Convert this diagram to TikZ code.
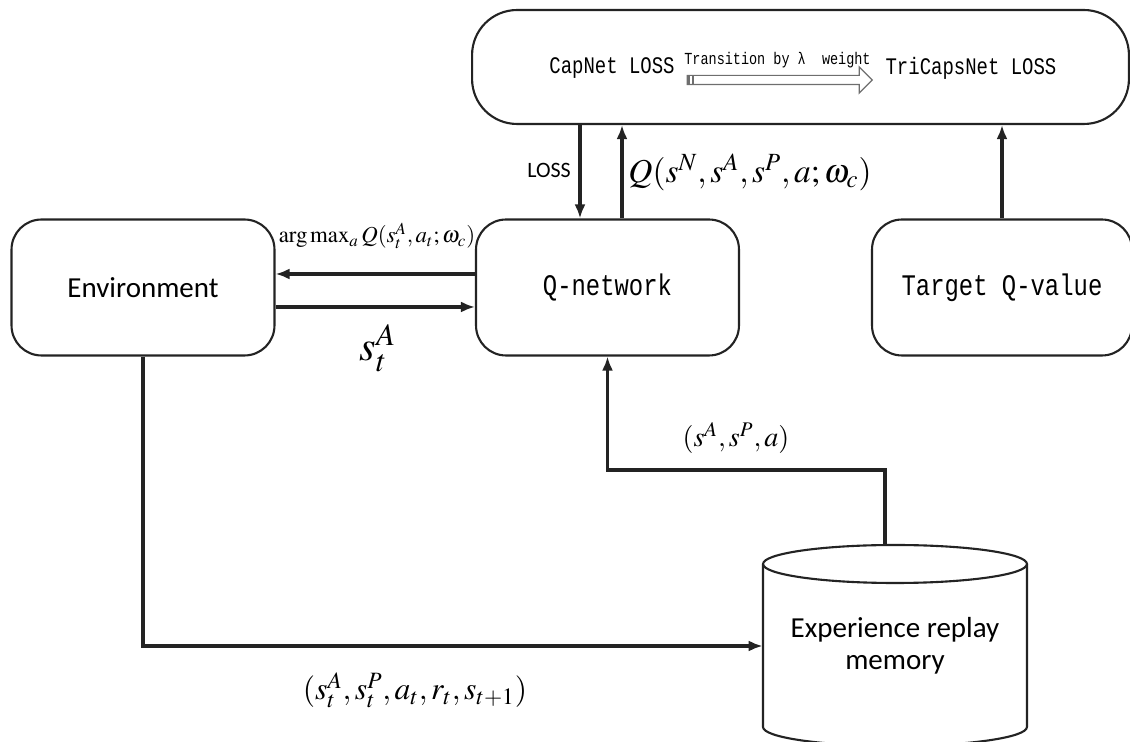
\documentclass[tikz,border=0pt]{standalone}
\usepackage{mathptmx}
\usepackage{fontspec}
\setmainfont{Carlito}
\newfontfamily\monoFont[FakeStretch=0.8]{Liberation Mono}
\usepackage{tikz}
\usetikzlibrary{positioning, arrows.meta, shapes.arrows}
\tikzstyle{pixelGrid} = [x = 0.02cm, y = -0.02cm]
\definecolor{lineColor}{RGB}{35,35,35}
\definecolor{transitionColor}{RGB}{110,110,110}
\tikzstyle{boxStyle} = [draw=lineColor, line width = 1.2pt, rounded corners = .6cm, minimum width = 5.26cm, minimum height = 2.72cm]
\tikzstyle{monoText} = [font=\monoFont\fontsize{17}{20}\selectfont]
\tikzstyle{sansText} = [font=\fontsize{16.5}{18}\selectfont, align=center]
\tikzstyle{flow} = [draw=lineColor, line width = 1.9pt, -{Latex[length=.28cm, width=.22cm]}]
\newcommand{\mathLabel}[4]{\node [inner sep=0pt, font=\fontsize{#3}{#3}\selectfont] (#1) at (#2) {$#4$};}

\begin{document}
\begin{tikzpicture}[pixelGrid]
  \useasboundingbox (0,0) rectangle (1130,742);

  \node [boxStyle, rounded corners = .9cm, minimum width = 13.14cm, minimum height = 2.28cm] (loss) at (800.5,67) {};
  \node [font=\monoFont\fontsize{13.5}{15}\selectfont] (capNet) at (612,68) {CapNet LOSS};
  \node [font=\monoFont\fontsize{13.5}{15}\selectfont] (triCaps) at (971,68) {TriCapsNet LOSS};
  \node [single arrow, draw=transitionColor, line width = .7pt, minimum height = 3.7cm, minimum width = .5cm,
         single arrow head extend = .17cm, single arrow head indent = 0cm, inner sep = .08cm] (transition) at (777.5,80) {};
  \foreach \gripX in {689,693}
    \draw [transitionColor, line width = .7pt] (\gripX,76) -- (\gripX,84);
  \node [font=\monoFont\fontsize{9.6}{11}\selectfont, above = .02cm of transition] (transitionText) {Transition by λ~~weight};

  \node [boxStyle] (env) at (143,287.5) {};
  \node [sansText] at (env) {Environment};
  \node [boxStyle] (qnet) at (607.5,287.5) {};
  \node [monoText] at (qnet) {Q-network};
  \node [boxStyle, minimum width = 5.2cm] (target) at (1002,287.5) {};
  \node [monoText] at (target) {Target Q-value};

  % replay memory drawn as a cylinder
  \draw [lineColor, line width = 1.2pt, fill=white] (763,564) -- (763,727) arc [start angle=180, end angle=360, x radius=2.64cm, y radius=.38cm] -- (1027,564);
  \draw [lineColor, line width = 1.2pt] (895,564) ellipse [x radius=2.64cm, y radius=.38cm];
  \node [sansText, minimum width = 5.28cm] (memory) at (895,646) {Experience replay\\memory};
  \coordinate (memoryTop) at (885,545);

  \path (qnet.north) ++(-27.5,0) coordinate (lossIn);
  \path (qnet.north) ++(14.5,0) coordinate (qOut);
  \draw [flow] (lossIn |- loss.south) -- (lossIn);
  \draw [flow] (qOut) -- (qOut |- loss.south);
  \draw [flow] (target.north) -- (target.north |- loss.south);
  \draw [flow] ([yshift=.27cm]qnet.west) -- ([yshift=.27cm]env.east);
  \draw [flow] ([yshift=-.39cm]env.east) -- ([yshift=-.39cm]qnet.west);
  \draw [flow] (memoryTop) -- ++(0,-75) -| (qnet.south);
  \draw [flow] (env.south) |- (memory.west);

  \node [font=\fontsize{12.5}{14}\selectfont] (lossText) at (549,170) {LOSS};
  \mathLabel{qLabel}{750,172}{19}{Q(s^{N}, s^{A}, s^{P}, a; \omega_{c})}
  \mathLabel{actLabel}{377,236}{13}{\arg\max\nolimits_{a} Q(s_{t}^{A}, a_{t}; \omega_{c})}
  \mathLabel{stateLabel}{378,348}{24}{s_{t}^{A}}
  \mathLabel{sampleLabel}{736,438}{16}{(s^{A}, s^{P}, a)}
  \mathLabel{storeLabel}{415,690}{18}{(s_{t}^{A}, s_{t}^{P}, a_{t}, r_{t}, s_{t+1})}
\end{tikzpicture}
\end{document}
